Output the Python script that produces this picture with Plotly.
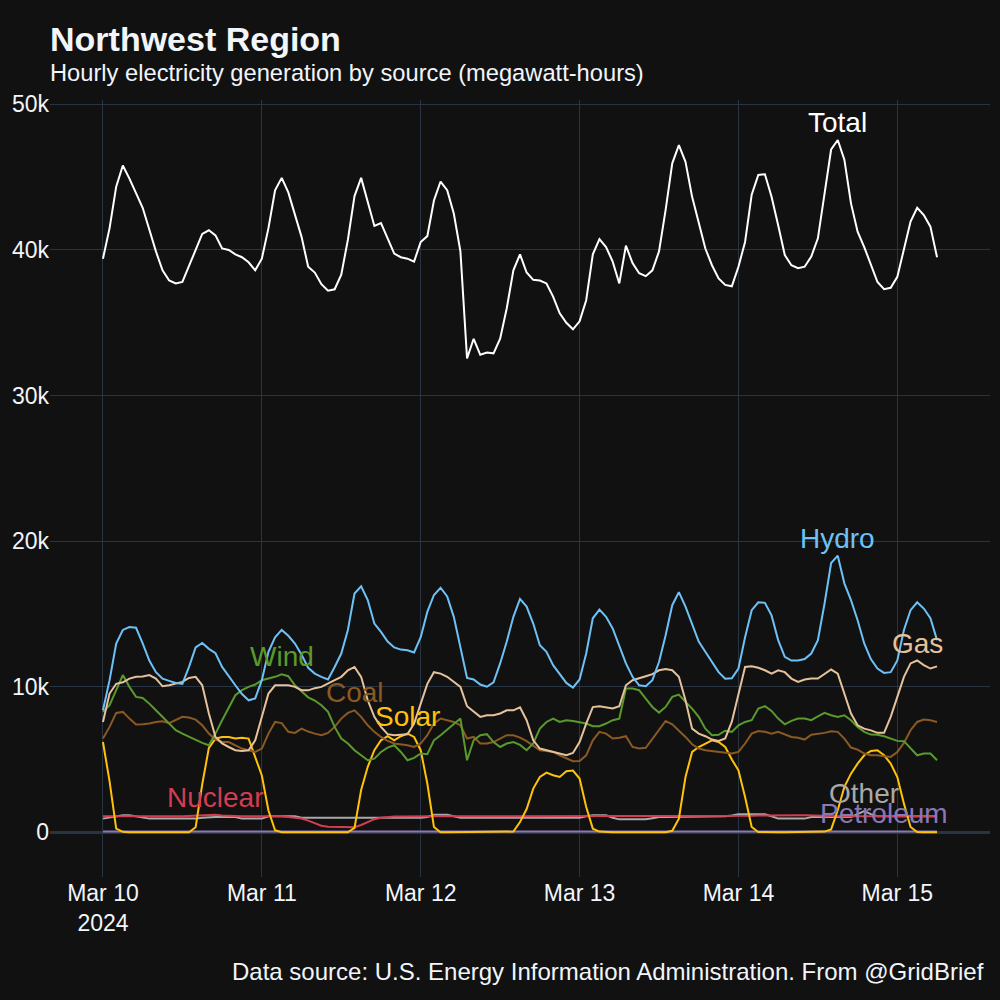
import numpy as np
import pandas as pd
import plotly.graph_objects as go

# ---- data (MWh per hour), hourly from 2024-03-10 00:00 ----
start_time = "2024-03-10 00:00"
n_hours = 127

total = [
    39400, 41500, 44350, 45800, 44900, 43900, 42900, 41400, 39900, 38600,
    37900, 37700, 37800, 38900, 40000, 41100, 41350, 41000, 40100, 40000,
    39700, 39500, 39150, 38600, 39400, 41500, 44100, 44950, 43950, 42400,
    40900, 38850, 38450, 37650, 37200, 37300, 38300, 40700, 43700, 44950,
    43300, 41650, 41850, 40800, 39750, 39500, 39400, 39200, 40550, 40950,
    43400, 44700, 44100, 42500, 39900, 32550, 33900, 32800, 32950, 32900,
    33900, 36000, 38600, 39700, 38450, 37950, 37900, 37700, 36800, 35650,
    35000, 34550, 35100, 36550, 39700, 40750, 40200, 39200, 37700, 40300,
    39100, 38400, 38200, 38600, 39900, 42750, 45950, 47200, 46050, 43650,
    41800, 40100, 38950, 38050, 37600, 37500, 38850, 40550, 43800, 45150,
    45200, 43650, 41700, 39650, 38950, 38750, 38850, 39550, 40800, 43900,
    46900, 47550, 46200, 43200, 41250, 40200, 38950, 37800, 37300, 37400,
    38150, 40000, 41950, 42900, 42400, 41600, 39500,
]

hydro = [
    8380, 10450, 12970, 13900, 14100, 14050, 12970, 11800, 11000, 10550,
    10400, 10260, 10200, 11360, 12700, 13000, 12600, 12300, 11360, 10700,
    10100, 9500, 9070, 9200, 10450, 12400, 13400, 13900, 13500, 12970,
    12200, 11300, 10900, 10680, 10500, 11360, 12280, 13900, 16400, 16900,
    15950, 14340, 13770, 13100, 12700, 12550, 12500, 12350, 13400, 15140,
    16300, 16800, 16200, 14800, 12700, 10600, 10500, 10150, 10000, 10300,
    11600, 13100, 14800, 16030, 15500, 14340, 12850, 12400, 11480, 10900,
    10260, 9940, 10500, 12280, 14700, 15300, 14800, 14000, 12740, 11600,
    10680, 10100, 10030, 10450, 11700, 13540, 15600, 16500, 15500, 14340,
    13100, 12400, 11700, 11000, 10550, 10580, 11250, 13400, 15260, 15800,
    15760, 14900, 13200, 12050, 11800, 11800, 11900, 12280, 13200, 15700,
    18500, 19000, 17100, 15950, 14570, 12970, 11900, 11250, 10950, 11000,
    11800, 13900, 15260, 15800, 15370, 14700, 13200,
]

gas = [
    7580, 9530, 10200, 10300, 10560, 10680, 10700, 10800, 10560, 10030,
    10100, 10200, 10330, 10600, 10680, 10100, 8160, 6550, 6100, 5860,
    5640, 5590, 5640, 6320, 7930, 9530, 10100, 10100, 10100, 9990,
    9760, 9750, 9900, 9990, 10200, 10450, 10680, 11130, 11360, 10680,
    9070, 7930, 7240, 6740, 6670, 6700, 6740, 7470, 8840, 10200,
    11000, 10900, 10680, 10330, 9990, 8660, 8270, 7930, 8040, 8040,
    8160, 8380, 8380, 8580, 7700, 6320, 5750, 5640, 5520, 5410,
    5290, 5450, 6200, 7470, 8600, 8660, 8600, 8500, 8660, 10100,
    10450, 10560, 10720, 10860, 11130, 11220, 11130, 10680, 9070, 7120,
    6780, 6600, 6370, 6280, 6450, 7600, 9530, 11360, 11400, 11300,
    11130, 10900, 11130, 11000, 10560, 10330, 10500, 10560, 10560, 10900,
    11180, 10900, 9530, 8160, 7350, 7120, 7000, 6830, 6830, 7930,
    9300, 10680, 11600, 11800, 11480, 11250, 11400,
]

coal = [
    6440, 7240, 8200, 8270, 7810, 7400, 7420, 7470, 7580, 7630,
    7500, 7700, 7930, 7880, 7740, 7350, 6780, 6370, 6200, 6200,
    5980, 5750, 5640, 5520, 5750, 6780, 7580, 7500, 6900, 6830,
    7120, 6920, 6780, 6670, 6830, 7240, 7810, 8200, 8380, 7930,
    7350, 6900, 6550, 6280, 6100, 6050, 5980, 5860, 6100, 6670,
    7470, 7810, 7700, 7580, 7350, 6440, 6550, 6100, 6100, 6200,
    6440, 6670, 6670, 6500, 6260, 5980, 5640, 5590, 5520, 5290,
    5060, 4880, 4900, 5290, 6320, 6900, 6780, 6440, 6500, 6600,
    5860, 5750, 5800, 6440, 7060, 7650, 7420, 7010, 6550, 6050,
    5750, 5640, 5590, 5520, 5480, 5410, 5520, 6100, 6780, 6960,
    6900, 6780, 6900, 6710, 6550, 6500, 6370, 6700, 6760, 6830,
    6940, 6900, 6440, 5820, 5680, 5410, 5290, 5290, 5220, 5180,
    5520, 6140, 7010, 7580, 7740, 7700, 7580,
]

wind = [
    8270, 8730, 9760, 10800, 9990, 9300, 9230, 8840, 8380, 7930,
    7470, 7010, 6780, 6550, 6320, 6140, 5980, 6780, 7700, 8610,
    9420, 9760, 9990, 10150, 10450, 10560, 10680, 10860, 10720, 10100,
    9650, 9270, 9050, 8730, 8270, 7240, 6440, 6100, 5640, 5290,
    4950, 5060, 5520, 5820, 5980, 5520, 4950, 5110, 5410, 5360,
    6320, 6670, 7060, 7420, 7810, 4950, 6320, 6670, 6740, 6200,
    5860, 6100, 6200, 6000, 5640, 6100, 7120, 7580, 7810, 7580,
    7700, 7650, 7580, 7470, 7290, 7290, 7470, 7700, 7810, 9870,
    9870, 9760, 9190, 8610, 8220, 8610, 9300, 9460, 8960, 8500,
    7930, 7120, 6670, 6700, 6980, 6900, 7350, 7580, 7700, 8500,
    8660, 8340, 7810, 7420, 7650, 7810, 7810, 7700, 7970, 8200,
    8040, 7930, 8040, 7700, 7240, 6900, 6710, 6700, 6600, 6440,
    6280, 6260, 5750, 5290, 5410, 5410, 4950,
]

solar = [
    6200, 3500, 250, 30, 0, 0, 0, 0, 0, 0,
    0, 0, 0, 0, 350, 3300, 5800, 6440, 6550, 6550,
    6440, 6500, 6440, 5200, 3900, 1500, 140, 0, 0, 0,
    0, 0, 0, 0, 0, 0, 0, 0, 300, 2900,
    4500, 5640, 6320, 6600, 6320, 6600, 6780, 6550, 5640, 3350,
    370, 0, 0, 0, 0, 0, 0, 0, 0, 0,
    0, 0, 50, 700, 1600, 3000, 3800, 4100, 3920, 3800,
    4200, 4240, 3690, 1740, 250, 50, 0, 0, 0, 0,
    0, 0, 0, 0, 0, 0, 100, 940, 3800, 5520,
    5860, 6100, 6320, 6200, 5860, 5000, 4260, 2430, 370, 20,
    0, 0, 0, 0, 0, 0, 0, 0, 0, 50,
    200, 1510, 3120, 4030, 4720, 5290, 5590, 5640, 5290, 4720,
    3800, 1970, 370, 20, 0, 0, 0,
]

nuclear = [
    1100, 1110, 1120, 1120, 1110, 1100, 1100, 1110, 1120, 1120,
    1110, 1100, 1100, 1110, 1120, 1130, 1150, 1200, 1150, 1120,
    1110, 1100, 1100, 1110, 1120, 1120, 1110, 1100, 1050, 1000,
    950, 800, 600, 450, 380, 370, 370, 330, 350, 500,
    700, 900, 1000, 1050, 1080, 1090, 1100, 1100, 1100, 1100,
    1100, 1100, 1100, 1100, 1100, 1100, 1110, 1110, 1100, 1100,
    1100, 1100, 1100, 1110, 1110, 1100, 1100, 1100, 1100, 1100,
    1100, 1100, 1100, 1100, 1100, 1100, 1110, 1120, 1130, 1130,
    1120, 1110, 1100, 1100, 1100, 1100, 1100, 1100, 1100, 1100,
    1100, 1100, 1100, 1100, 1100, 1100, 1110, 1120, 1140, 1160,
    1170, 1170, 1170, 1170, 1170, 1170, 1170, 1170, 1170, 1150,
    1120, 1100, 1100, 1100, 1100, 1100, 1100, 1100, 1100, 1100,
    1100, 1100, 1100, 1100, 1100, 1100, 1100,
]

other = [
    940, 1000, 1100, 1170, 1170, 1100, 1000, 940, 940, 940,
    940, 940, 940, 940, 940, 1000, 1050, 1050, 1050, 1050,
    1050, 940, 940, 940, 940, 1100, 1100, 1100, 1100, 1100,
    1000, 1000, 1000, 990, 970, 960, 960, 960, 970, 980,
    990, 1000, 1000, 1000, 1000, 1000, 1000, 1000, 1000, 1050,
    1200, 1200, 1200, 1100, 1000, 1000, 1000, 1000, 1000, 1000,
    1000, 1000, 1000, 1000, 1000, 1000, 1000, 1000, 1000, 1000,
    1000, 1000, 1000, 1100, 1170, 1170, 1170, 1000, 890, 890,
    890, 890, 890, 970, 1050, 1050, 1050, 1050, 1050, 1050,
    1050, 1050, 1050, 1050, 1100, 1150, 1240, 1240, 1240, 1240,
    1240, 1100, 940, 940, 940, 940, 940, 1050, 1050, 1050,
    1050, 1050, 1050, 1050, 1250, 1450, 1250, 1100, 1100, 1100,
    1100, 1100, 1100, 1100, 1100, 1100, 1100,
]

petroleum = [
    50, 50, 50, 50, 50, 50, 50, 50, 50, 50,
    50, 50, 50, 50, 50, 50, 50, 50, 50, 50,
    50, 50, 50, 50, 50, 50, 50, 50, 50, 50,
    50, 50, 50, 50, 50, 50, 50, 50, 50, 50,
    50, 50, 50, 50, 50, 50, 50, 50, 50, 50,
    50, 50, 50, 50, 50, 50, 50, 50, 50, 50,
    50, 50, 50, 50, 50, 50, 50, 50, 50, 50,
    50, 50, 50, 50, 50, 50, 50, 50, 50, 50,
    50, 50, 50, 50, 50, 50, 50, 50, 50, 50,
    50, 50, 50, 50, 50, 50, 50, 50, 50, 50,
    50, 50, 50, 50, 50, 50, 50, 50, 50, 50,
    50, 50, 50, 50, 50, 50, 60, 70, 80, 60,
    50, 50, 50, 50, 50, 50, 50,
]

series_names = ["Petroleum", "Other", "Nuclear", "Solar", "Coal", "Wind", "Gas", "Hydro", "Total"]
series_values = [petroleum, other, nuclear, solar, coal, wind, gas, hydro, total]
series_colors = ["#8878b4", "#a9a9a9", "#d43d51", "#ffc20a", "#8b5a22",
                 "#5a9a2c", "#e6c29c", "#6ec1f6", "#ffffff"]

title_text = "Northwest Region"
subtitle_text = "Hourly electricity generation by source (megawatt-hours)"
source_text = "Data source: U.S. Energy Information Administration. From @GridBrief"

times = pd.date_range(start_time, periods=n_hours, freq="h")

FONT = "Liberation Sans, Arial, Helvetica, sans-serif"

fig = go.Figure()
annotations = []
for name, vals, col in zip(series_names, series_values, series_colors):
    fig.add_trace(go.Scatter(x=times, y=vals, mode="lines", name=name,
                             line=dict(color=col, width=2), showlegend=False))
    i = int(np.argmax(vals))
    annotations.append(dict(x=times[i], y=vals[i], xref="x", yref="y", text=name,
                            showarrow=False, yanchor="bottom", xanchor="center",
                            font=dict(size=28, color=col, family=FONT)))

annotations += [
    dict(text="<b>" + title_text + "</b>", x=0, y=1.079, xref="paper", yref="paper",
         xanchor="left", yanchor="middle", showarrow=False, xshift=-2,
         font=dict(size=34, color="#f2f5fa", family=FONT)),
    dict(text=subtitle_text, x=0, y=1.035, xref="paper", yref="paper",
         xanchor="left", yanchor="middle", showarrow=False, xshift=-2,
         font=dict(size=23.7, color="#f2f5fa", family=FONT)),
    dict(text=source_text, x=1, y=-0.122, xref="paper", yref="paper",
         xanchor="right", yanchor="middle", showarrow=False, xshift=-4,
         font=dict(size=24, color="#f2f5fa", family=FONT)),
]

fig.update_layout(
    template="plotly_dark",
    width=1000, height=1000,
    margin=dict(l=50, r=10, t=100, b=123),
    paper_bgcolor="#111111", plot_bgcolor="#111111",
    font=dict(family=FONT, size=23, color="#f2f5fa"),
    annotations=annotations,
)
fig.update_xaxes(range=["2024-03-09 16:00", "2024-03-15 14:00"],
                 dtick=86400000, tick0="2024-03-10", gridcolor="#283442",
                 showline=False, zeroline=False, tickfont=dict(size=23))
fig.update_yaxes(range=[-3070, 50300], dtick=10000, gridcolor="#283442",
                 zeroline=True, zerolinecolor="#283442", zerolinewidth=3,
                 tickfont=dict(size=23))

fig.write_html("out.html", config={"displayModeBar": False},
               post_script="document.body.style.margin='0';document.body.style.background='#111111';")
